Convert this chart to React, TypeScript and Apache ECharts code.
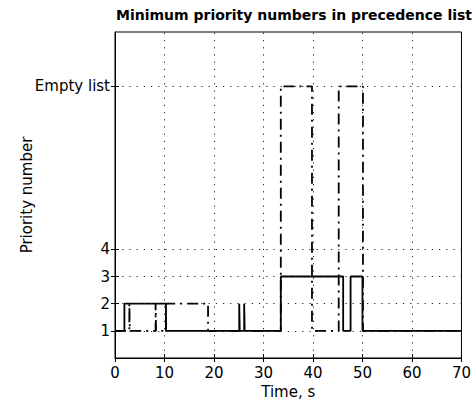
import React, { useEffect, useRef } from "react";
import * as echarts from "echarts";

// Step series: [time (s), priority] change points; value holds until next point
const solidSeries: [number, number][] = [
  [0, 1], [1.9, 2], [10.3, 1], [25.1, 2], [25.2, 1], [26.1, 2], [26.2, 1],
  [33.5, 3], [46.1, 1], [47.6, 3], [50.0, 1], [70, 1],
];
const dashDotSeries: [number, number][] = [
  [0, 1], [2.9, 2], [3.0, 1], [8.2, 2], [8.3, 1], [10.3, 2], [18.8, 1],
  [33.5, 10], [39.8, 1], [45.2, 10], [50.1, 1], [70, 1],
];
const yTickValues = [1, 2, 3, 4, 10];
const yTickLabels: Record<number, string> = { 1: "1", 2: "2", 3: "3", 4: "4", 10: "Empty list" };
const xGridValues = [10, 20, 30, 40, 50, 60];

const titleText = "Minimum priority numbers in precedence list";
const xName = "Time, s";
const yName = "Priority number";

const FONT = "DejaVu Sans";

export default function App() {
  const ref = useRef<HTMLDivElement>(null);
  useEffect(() => {
    if (!ref.current) return;
    const chart = echarts.init(ref.current, undefined, { renderer: "svg" });
    const gridStyle = { color: "#222", width: 1, type: [1.2, 6] as any };
    const markLineData = [
      ...yTickValues.map((v) => ({ yAxis: v })),
      ...xGridValues.map((v) => ({ xAxis: v })),
    ];
    chart.setOption({
      animation: false,
      backgroundColor: "#fff",
      title: {
        text: titleText,
        left: 289,
        top: 3,
        textAlign: "center",
        textStyle: { fontFamily: FONT, fontSize: 14, fontWeight: "bold", color: "#000" },
      },
      grid: {
        left: 115, right: 10, top: 32, bottom: 49,
        show: true, borderColor: "#000", borderWidth: 1, backgroundColor: "#fff",
      },
      xAxis: [
        {
          type: "value", min: 0, max: 70, interval: 10, position: "bottom",
          name: xName, nameLocation: "middle", nameGap: 22,
          nameTextStyle: { fontFamily: FONT, fontSize: 15, color: "#000" },
          axisLine: { show: true, lineStyle: { color: "#000", width: 1 } },
          axisTick: { show: true, inside: true, length: 4, lineStyle: { color: "#000" } },
          axisLabel: { fontFamily: FONT, fontSize: 15, color: "#000", margin: 7 },
          splitLine: { show: false },
        },
        {
          type: "value", min: 0, max: 70, interval: 10, position: "top",
          axisLine: { show: false },
          axisTick: { show: true, inside: true, length: 4, lineStyle: { color: "#000" } },
          axisLabel: { show: false },
          splitLine: { show: false },
        },
      ],
      yAxis: [
        {
          type: "value", min: 0, max: 12, position: "left",
          name: yName, nameLocation: "middle", nameGap: 81, nameRotate: 90,
          nameMoveOverlap: false,
          nameTextStyle: { fontFamily: FONT, fontSize: 15, color: "#000" },
          axisLine: { show: true, lineStyle: { color: "#000", width: 1 } },
          axisTick: { show: true, inside: true, length: 4, customValues: yTickValues, lineStyle: { color: "#000" } },
          axisLabel: {
            fontFamily: FONT, fontSize: 15, color: "#000", margin: 5,
            customValues: yTickValues,
            formatter: (v: number) => yTickLabels[v] ?? "",
          },
          splitLine: { show: false },
        },
        {
          type: "value", min: 0, max: 12, position: "right",
          axisLine: { show: false },
          axisTick: { show: true, inside: true, length: 4, customValues: yTickValues, lineStyle: { color: "#000" } },
          axisLabel: { show: false },
          splitLine: { show: false },
        },
      ],
      series: [
        {
          type: "line",
          step: "end",
          data: dashDotSeries,
          symbol: "none",
          lineStyle: { color: "#000", width: 1.8, type: [11, 5, 2, 5] as any },
          markLine: {
            silent: true,
            symbol: "none",
            label: { show: false },
            lineStyle: gridStyle,
            data: markLineData,
          },
          z: 2,
        },
        {
          type: "line",
          step: "end",
          data: solidSeries,
          symbol: "none",
          lineStyle: { color: "#000", width: 1.8, type: "solid" },
          z: 3,
        },
      ],
    });
    return () => chart.dispose();
  }, []);
  return (
    <div
      ref={ref}
      style={{ position: "fixed", left: 0, top: 0, width: 474, height: 407, background: "#fff" }}
    />
  );
}
